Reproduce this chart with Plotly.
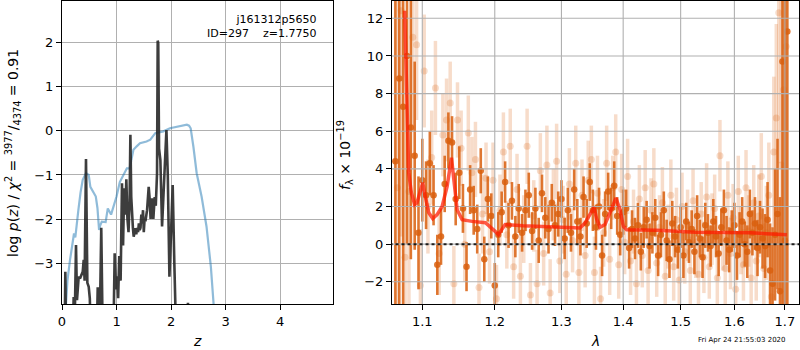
import plotly.graph_objects as go

# ---------------- left panel: p(z) ----------------
pz_ticks_x = [0, 1, 2, 3, 4]
pz_ticks_y = [-3, -2, -1, 0, 1, 2]

prior_z = [0.060, 0.10, 0.147, 0.18, 0.22, 0.244, 0.26, 0.30, 0.34, 0.38, 0.44, 0.49, 0.52, 0.57,
           0.62, 0.65, 0.68, 0.70, 0.73, 0.80, 0.84, 0.90, 0.95, 1.00, 1.06, 1.12, 1.19, 1.24,
           1.31, 1.37, 1.43, 1.55, 1.62, 1.71, 1.86, 1.98, 2.08, 2.17, 2.29, 2.33, 2.36, 2.41,
           2.47, 2.56, 2.65, 2.73, 2.79]
prior_logp = [-4.2, -3.4, -2.93, -2.7, -2.33, -2.42, -2.2, -1.8, -1.4, -1.11, -0.96, -1.0, -1.27,
              -1.38, -1.49, -1.75, -2.25, -2.15, -2.06, -2.07, -1.76, -1.9, -1.7, -1.49, -1.16,
              -1.0, -0.85, -0.85, -0.43, -0.35, -0.28, -0.24, -0.2, -0.05, -0.01, 0.06, 0.09,
              0.11, 0.14, 0.12, 0.06, -0.36, -0.96, -1.49, -2.17, -3.08, -4.1]

post_z = [0.050, 0.061, 0.072, 0.200, 0.214, 0.235, 0.257, 0.275, 0.306, 0.330, 0.355, 0.380,
          0.398, 0.415, 0.440, 0.465, 0.490, 0.510, 0.525, 0.640, 0.655, 0.670, 0.685, 0.695,
          0.720, 0.745, 0.945, 0.966, 0.990, 1.010, 1.030, 1.050, 1.075, 1.100, 1.120, 1.140,
          1.160, 1.180, 1.200, 1.220, 1.240, 1.254, 1.270, 1.284, 1.300, 1.315, 1.330, 1.346,
          1.362, 1.378, 1.395, 1.410, 1.425, 1.440, 1.455, 1.468, 1.486, 1.500, 1.515, 1.530,
          1.560, 1.575, 1.590, 1.605, 1.625, 1.650, 1.675, 1.700, 1.720, 1.743, 1.755, 1.765,
          1.780, 1.804, 1.835, 1.865, 1.896, 1.915, 1.940, 1.970, 2.000, 2.030, 2.060, 2.090,
          2.295, 2.310, 2.325]
post_logp = [-4.5, -3.2, -4.5, -4.5, -3.77, -4.2, -2.59, -3.84, -3.31, -3.35, -3.27, -3.2,
             -2.93, -3.4, -0.64, -3.45, -3.54, -3.8, -4.5, -4.5, -3.55, -4.5, -3.6, -4.2,
             -2.2, -4.5, -4.5, -2.78, -3.6, -3.3, -3.8, -2.84, -3.4, -1.19, -2.6, -1.3,
             -1.9, -1.1, -2.0, -2.3, -1.6, -0.09, -1.5, -2.02, -2.2, -2.4, -2.3, -2.21,
             -2.35, -2.2, -2.3, -2.1, -2.25, -2.2, -1.9, -2.1, -1.8, -2.3, -2.0, -2.05,
             -1.8, -1.4, -1.27, -1.5, -2.0, -1.53, -2.0, -1.5, -1.7, -0.96, 2.05, 2.0,
             -0.4, -0.66, -2.17, -1.2, -0.6, 0.02, -1.0, -3.31, -2.3, -1.23, -3.0, -4.5,
             -4.5, -3.9, -4.5]

# ---------------- right panel: spectrum ----------------
wave_ticks = [1.1, 1.2, 1.3, 1.4, 1.5, 1.6, 1.7]
flux_ticks = [-2, 0, 2, 4, 6, 8, 10, 12]

bin_wave = [1.065, 1.070, 1.075, 1.080, 1.085, 1.090, 1.095, 1.100, 1.105, 1.110,
            1.115, 1.120, 1.125, 1.130, 1.135, 1.140, 1.145, 1.150, 1.155, 1.160,
            1.165, 1.170, 1.175, 1.180, 1.185, 1.190, 1.195, 1.200, 1.205, 1.210,
            1.215, 1.220, 1.225, 1.230, 1.235, 1.240, 1.245, 1.250, 1.255, 1.260,
            1.265, 1.270, 1.275, 1.280, 1.285, 1.290, 1.295, 1.300, 1.305, 1.310,
            1.315, 1.320, 1.325, 1.330, 1.335, 1.340, 1.345, 1.350, 1.355, 1.360,
            1.365, 1.370, 1.375, 1.380, 1.385, 1.390, 1.395, 1.400, 1.405, 1.410,
            1.415, 1.420, 1.425, 1.430, 1.435, 1.440, 1.445, 1.450, 1.455, 1.460,
            1.465, 1.470, 1.475, 1.480, 1.485, 1.490, 1.495, 1.500, 1.505, 1.510,
            1.515, 1.520, 1.525, 1.530, 1.535, 1.540, 1.545, 1.550, 1.555, 1.560,
            1.565, 1.570, 1.575, 1.580, 1.585, 1.590, 1.595, 1.600, 1.605, 1.610,
            1.615, 1.620, 1.625, 1.630, 1.635, 1.640, 1.645, 1.650, 1.655, 1.660,
            1.665, 1.670, 1.675, 1.680, 1.685, 1.690, 1.695, 1.700, 1.705]
bin_flux = [4.4, 8.8, 7.3, 10.0, 6.2, 4.7, 0.6, 3.4, 2.6, 4.3,
            2.6, -1.1, 0.4, 3.2, 5.5, 5.4, 2.4, 3.8, 1.9, -1.2,
            2.9, 1.8, 0.8, 3.9, -0.8, 2.4, 1.5, -2.2, 0.5, 1.7,
            3.3, 1.0, 2.3, 0.4, 1.9, 0.6, 1.8, 2.6, 0.7, 1.9,
            0.2, 2.7, 1.4, 0.8, 2.2, 1.0, 1.6, 2.4, 0.3, 1.8,
            0.6, 2.9, 1.2, 0.4, 2.5, 1.1, 3.3, 1.8, 0.9, 2.0,
            -0.6, 1.6, 2.8, 1.9, 3.1, 1.5, 0.5, 1.7, 1.9, -0.2,
            0.8, 0.3, 1.0, -0.4, 0.9, 1.3, -0.1, 0.6, 1.4, -0.6,
            0.5, 1.8, 0.2, -0.8, 1.1, 0.4, -0.3, 0.9, -0.6, 1.2,
            0.1, 0.8, -0.4, 1.5, 0.3, -0.7, 1.0, 0.6, -0.1, 1.2,
            0.4, -0.5, 0.9, 1.8, 0.2, -0.3, 0.7, 1.0, -0.6, 0.5,
            1.2, 0.0, -0.4, 1.6, 0.6, 1.1, -0.2, 0.9, 0.3, -0.1,
            1.3, -1.4, -2.1, 0.5, 1.6, -2.5, 9.7, 0.2, 11.3]
bin_err = [15, 15, 12, 10, 7, 5, 3, 2.2, 1.8, 1.7,
           1.6, 1.6, 1.5, 1.5, 1.5, 1.4, 1.4, 1.4, 1.3, 1.3,
           1.3, 1.3, 1.3, 1.2, 1.2, 1.2, 1.2, 1.2, 1.2, 1.1,
           1.1, 1.2, 1.0, 1.1, 1.3, 1.0, 1.1, 1.2, 1.0, 1.1,
           1.2, 1.0, 1.1, 1.3, 1.0, 1.1, 1.2, 1.0, 1.1, 1.2,
           1.0, 1.1, 1.2, 1.0, 1.1, 1.3, 1.0, 1.1, 1.2, 1.0,
           1.1, 1.2, 1.0, 1.1, 1.3, 1.0, 1.1, 1.2, 1.0, 1.1,
           1.0, 1.1, 1.2, 1.0, 1.1, 1.0, 1.2, 1.1, 1.0, 1.1,
           1.2, 1.0, 1.1, 1.0, 1.2, 1.1, 1.0, 1.1, 1.2, 1.0,
           1.1, 1.0, 1.2, 1.1, 1.0, 1.1, 1.2, 1.0, 1.1, 1.2,
           1.1, 1.2, 1.0, 1.1, 1.3, 1.2, 1.1, 1.2, 1.3, 1.2,
           1.3, 1.2, 1.4, 1.3, 1.2, 1.4, 1.5, 1.4, 1.6, 1.7,
           2.0, 2.5, 3.0, 3.5, 4.0, 5.0, 15, 15, 15]

raw_wave = [1.0675, 1.0725, 1.0775, 1.0825, 1.0875, 1.0925, 1.0975, 1.1025, 1.1075, 1.1125,
            1.1175, 1.1225, 1.1275, 1.1325, 1.1375, 1.1425, 1.1475, 1.1525, 1.1575, 1.1625,
            1.1675, 1.1725, 1.1775, 1.1825, 1.1875, 1.1925, 1.1975, 1.2025, 1.2075, 1.2125,
            1.2175, 1.2225, 1.2275, 1.2325, 1.2375, 1.2425, 1.2475, 1.2525, 1.2575, 1.2625,
            1.2675, 1.2725, 1.2775, 1.2825, 1.2875, 1.2925, 1.2975, 1.3025, 1.3075, 1.3125,
            1.3175, 1.3225, 1.3275, 1.3325, 1.3375, 1.3425, 1.3475, 1.3525, 1.3575, 1.3625,
            1.3675, 1.3725, 1.3775, 1.3825, 1.3875, 1.3925, 1.3975, 1.4025, 1.4075, 1.4125,
            1.4175, 1.4225, 1.4275, 1.4325, 1.4375, 1.4425, 1.4475, 1.4525, 1.4575, 1.4625,
            1.4675, 1.4725, 1.4775, 1.4825, 1.4875, 1.4925, 1.4975, 1.5025, 1.5075, 1.5125,
            1.5175, 1.5225, 1.5275, 1.5325, 1.5375, 1.5425, 1.5475, 1.5525, 1.5575, 1.5625,
            1.5675, 1.5725, 1.5775, 1.5825, 1.5875, 1.5925, 1.5975, 1.6025, 1.6075, 1.6125,
            1.6175, 1.6225, 1.6275, 1.6325, 1.6375, 1.6425, 1.6475, 1.6525, 1.6575, 1.6625,
            1.6675, 1.6725, 1.6775, 1.6825, 1.6875, 1.6925, 1.6975, 1.7025]
raw_flux = [3.0, 12.4, -0.7, 2.8, 11.0, 10.6, -2.2, 9.2, 2.0, 4.6,
            8.3, -0.5, 5.8, 6.6, 7.5, -2.1, 6.6, 5.1, 0.0, 5.9,
            3.8, 4.5, -2.3, 1.6, 3.5, -0.4, 3.4, -2.9, 1.8, 4.9,
            0.5, 5.2, -1.2, 2.9, -1.7, 0.8, 5.2, -2.7, 1.5, -2.1,
            3.9, -0.5, 4.2, -2.6, 2.1, 4.4, -0.9, 1.3, -1.6, 3.2,
            0.2, 4.3, -1.5, 2.6, -0.6, 3.4, 4.5, -1.5, 2.7, -2.9,
            0.6, 4.3, -0.8, 3.0, 4.9, -1.1, 2.9, 0.1, 3.6, -0.9,
            1.2, -2.1, 2.4, -0.6, 3.0, -1.4, 1.8, 3.2, -1.0, 0.9,
            2.2, -1.7, 0.4, 2.6, -1.2, 1.3, -1.9, 2.0, -0.4, 1.0,
            -1.4, 2.3, 0.1, -1.6, 1.6, -0.7, 2.5, -1.2, 0.8, 1.9,
            -1.8, 4.7, 0.3, -1.3, 2.6, -0.5, 1.4, -2.4, 2.8, 0.2,
            -1.1, 3.0, 0.7, -1.8, 2.2, -0.9, 1.5, 3.6, -1.3, 0.6,
            2.6, -2.8, 4.9, 6.7, 12.3, 4.2, 8.2, 10.5]
raw_err = [12, 12, 8, 7, 5, 4, 3, 3, 2.5, 2.5,
           2.5, 2.2, 2.2, 2.2, 2.2, 2.0, 2.0, 2.0, 2.0, 2.0,
           1.9, 2.0, 1.8, 2.1, 1.9, 1.7, 2.0, 1.8, 1.9, 2.1,
           1.8, 2.0, 1.7, 1.9, 2.2, 1.8, 2.0, 1.7, 1.9, 1.8,
           2.0, 1.7, 2.1, 1.8, 1.9, 2.0, 1.7, 1.8, 2.0, 1.9,
           1.7, 2.0, 1.8, 1.9, 1.7, 2.1, 1.8, 1.9, 2.0, 1.7,
           1.8, 2.0, 1.9, 1.7, 2.0, 1.8, 1.9, 1.7, 2.0, 1.8,
           1.7, 1.9, 1.8, 1.7, 2.0, 1.8, 1.7, 1.9, 1.8, 1.7,
           1.9, 1.8, 1.7, 1.9, 1.8, 1.7, 1.9, 1.8, 1.7, 1.9,
           1.8, 1.7, 1.9, 1.8, 1.7, 1.9, 1.8, 1.7, 1.9, 1.8,
           1.8, 1.9, 1.7, 1.9, 1.8, 1.9, 1.8, 2.0, 1.9, 1.8,
           1.9, 2.0, 1.9, 2.1, 2.0, 2.1, 2.2, 2.3, 2.4, 2.5,
           2.8, 3.2, 4.0, 5.0, 8.0, 10.0, 12.0, 14.0]

model_wave = [1.0770, 1.0787, 1.0800, 1.0822, 1.0856, 1.0900, 1.0930, 1.0974, 1.1006, 1.1040,
              1.1086, 1.1139, 1.1197, 1.1265, 1.1333, 1.1392, 1.1425, 1.1470, 1.1539, 1.1678,
              1.1866, 1.1962, 1.2005, 1.2052, 1.2102, 1.2150, 1.2415, 1.2925, 1.3292, 1.3372,
              1.3453, 1.3518, 1.3560, 1.3616, 1.3698, 1.3781, 1.3880, 1.3947, 1.4003, 1.4060,
              1.4578, 1.5263, 1.5788, 1.6307, 1.7041]
model_flux = [12.4, 9.4, 5.9, 3.8, 2.75, 2.1, 2.2, 2.9, 3.27, 2.52,
              1.67, 1.36, 1.57, 2.0, 3.07, 4.59, 3.42, 1.83, 1.3, 1.21,
              1.14, 0.86, 0.68, 0.5, 0.77, 1.04, 0.98, 0.89, 0.86, 1.12,
              1.56, 1.95, 1.35, 0.9, 1.04, 1.65, 2.45, 1.83, 0.95, 0.77,
              0.74, 0.63, 0.6, 0.6, 0.5]

zero_wave = [1.05, 1.75]
zero_flux = [0, 0]

# ranges
pz_xrange = [0, 4.97]
pz_yrange = [-3.93, 2.95]
sp_xrange_log = [0.0256, 0.2378]
sp_yrange = [-3.18, 12.92]

FONT = "DejaVu Sans"
GRID = "#b0b0b0"
ORANGE_DARK = "rgba(217,95,14,0.85)"
ORANGE_LIGHT = "rgba(217,95,14,0.22)"

fig = go.Figure()

# left panel
fig.add_trace(go.Scatter(x=prior_z, y=prior_logp, mode="lines",
                         line=dict(color="rgba(31,119,180,0.5)", width=2.2),
                         xaxis="x", yaxis="y", hoverinfo="skip"))
fig.add_trace(go.Scatter(x=post_z, y=post_logp, mode="lines",
                         line=dict(color="rgba(40,40,40,0.9)", width=2.6),
                         xaxis="x", yaxis="y", hoverinfo="skip"))

# right panel: data
fig.add_trace(go.Scatter(x=raw_wave, y=raw_flux, mode="markers",
                         marker=dict(color=ORANGE_LIGHT, size=7, line=dict(width=0)),
                         error_y=dict(type="data", array=raw_err, visible=True,
                                      color=ORANGE_LIGHT, thickness=3.5, width=0),
                         xaxis="x2", yaxis="y2", hoverinfo="skip"))
fig.add_trace(go.Scatter(x=bin_wave, y=bin_flux, mode="markers",
                         marker=dict(color=ORANGE_DARK, size=6.5, line=dict(width=0)),
                         error_y=dict(type="data", array=bin_err, visible=True,
                                      color=ORANGE_DARK, thickness=2.6, width=0),
                         xaxis="x2", yaxis="y2", hoverinfo="skip"))

# right panel grid drawn above the data (as in the reference)
gx, gy = [], []
for t in wave_ticks:
    gx += [t, t, None]
    gy += [sp_yrange[0] - 5, sp_yrange[1] + 5, None]
for t in flux_ticks:
    gx += [10 ** (sp_xrange_log[0] - 0.05), 10 ** (sp_xrange_log[1] + 0.05), None]
    gy += [t, t, None]
fig.add_trace(go.Scatter(x=gx, y=gy, mode="lines", line=dict(color=GRID, width=1.1),
                         xaxis="x2", yaxis="y2", hoverinfo="skip", connectgaps=False))

fig.add_trace(go.Scatter(x=model_wave, y=model_flux, mode="lines",
                         line=dict(color="rgba(255,25,0,0.72)", width=3.5),
                         xaxis="x2", yaxis="y2", hoverinfo="skip"))
fig.add_trace(go.Scatter(x=zero_wave, y=zero_flux, mode="lines",
                         line=dict(color="rgba(0,0,0,0.85)", width=2, dash="dot"),
                         xaxis="x2", yaxis="y2", hoverinfo="skip"))

ydom = [1 - 304 / 350, 1 - 1 / 350]
axis_common = dict(showline=True, linecolor="black", linewidth=1.1, mirror=True,
                   ticks="outside", ticklen=5, tickwidth=1, tickcolor="black",
                   tickfont=dict(family=FONT, size=13, color="black"),
                   zeroline=False, automargin=False)

fig.update_layout(
    width=800, height=350,
    margin=dict(l=0, r=0, t=0, b=0),
    paper_bgcolor="white", plot_bgcolor="white",
    showlegend=False,
    font=dict(family=FONT, color="black"),
    xaxis=dict(domain=[62 / 800, 333 / 800], range=pz_xrange, tickvals=pz_ticks_x,
               showgrid=True, gridcolor=GRID, gridwidth=1.1, anchor="y", **axis_common),
    yaxis=dict(domain=ydom, range=pz_yrange, tickvals=pz_ticks_y,
               showgrid=True, gridcolor=GRID, gridwidth=1.1, anchor="x", **axis_common),
    xaxis2=dict(domain=[392 / 800, 799 / 800], type="log", range=sp_xrange_log,
                tickvals=wave_ticks, ticktext=[f"{t:.1f}" for t in wave_ticks],
                showgrid=False, anchor="y2", **axis_common),
    yaxis2=dict(domain=ydom, range=sp_yrange, tickvals=flux_ticks,
                showgrid=False, anchor="x2", **axis_common),
)

annotations = [
    dict(text="j161312p5650<br>ID=297\u00a0\u00a0\u00a0\u00a0z=1.7750", xref="x domain", yref="y domain",
         x=(318 - 62) / 271, y=(304 - 11) / 303, xanchor="right", yanchor="top", align="right",
         showarrow=False, font=dict(family=FONT, size=11, color="black")),
    dict(text="<i>z</i>", xref="paper", yref="paper", x=197.5 / 800, y=1 - 341 / 350,
         xanchor="center", yanchor="middle", showarrow=False, font=dict(family=FONT, size=14)),
    dict(text="<i>λ</i>", xref="paper", yref="paper", x=595 / 800, y=1 - 341 / 350,
         xanchor="center", yanchor="middle", showarrow=False, font=dict(family=FONT, size=14)),
    dict(text="log <i>p</i>(<i>z</i>) / <i>χ</i><sup>2</sup> = <sup>3977</sup>/<sub>4374</sub> = 0.91",
         xref="paper", yref="paper", x=13 / 800, y=1 - 153 / 350, textangle=-90,
         xanchor="center", yanchor="middle", showarrow=False, font=dict(family=FONT, size=14)),
    dict(text="<i>f</i><sub>λ</sub> × 10<sup>−19</sup>", xref="paper", yref="paper",
         x=345 / 800, y=1 - 155 / 350, textangle=-90, xanchor="center", yanchor="middle",
         showarrow=False, font=dict(family=FONT, size=14)),
    dict(text="Fri Apr 24 21:55:03 2020", xref="paper", yref="paper", x=788 / 800,
         y=1 - 340 / 350, xanchor="right", yanchor="middle", showarrow=False,
         font=dict(family=FONT, size=7, color="black")),
]
fig.update_layout(annotations=annotations)

fig.write_html("out.html",
               config={"displayModeBar": False},
               post_script="document.body.style.margin='0';document.body.style.overflow='hidden';")
